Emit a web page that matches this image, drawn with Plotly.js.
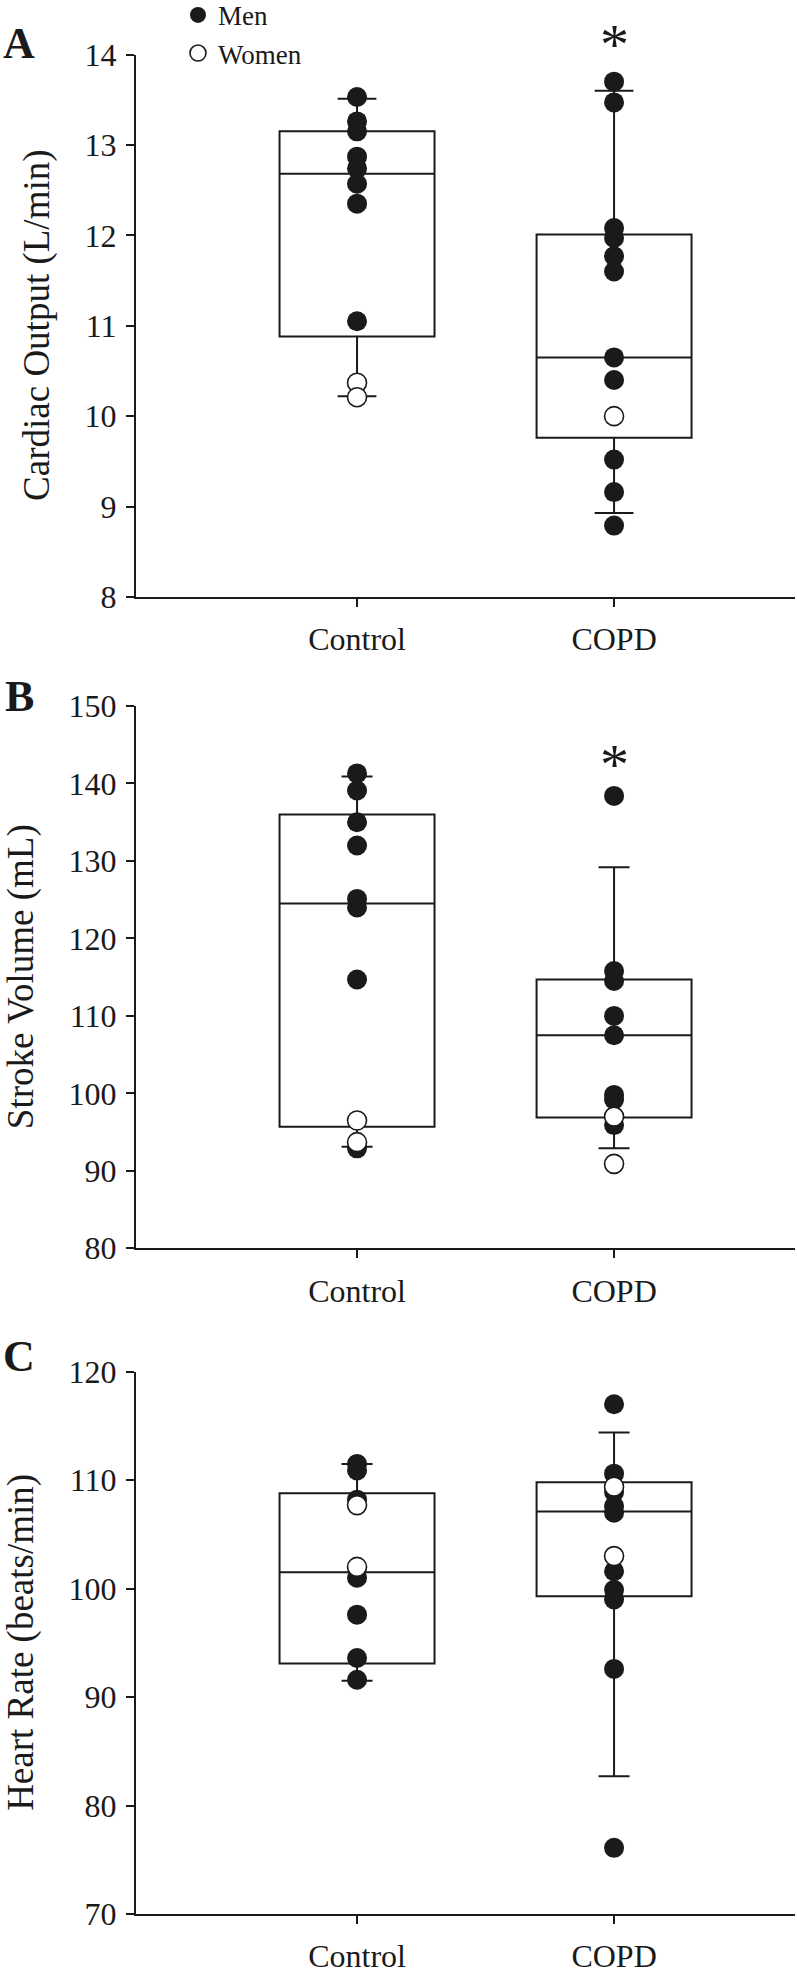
<!DOCTYPE html>
<html>
<head>
<meta charset="utf-8">
<script src="https://cdn.plot.ly/plotly-3.0.1.min.js"></script>
<style>
  html, body { margin: 0; padding: 0; background: #fff; }
  #chart { width: 797px; height: 1977px; }
</style>
</head>
<body>
<div id="chart"></div>
<script>
// ---- Data ----
var categories = ['Control', 'COPD'];

// Panel A: Cardiac Output (L/min)
var coQ1 = [10.88, 9.76];
var coMedian = [12.68, 10.65];
var coQ3 = [13.15, 12.01];
var coLower = [10.22, 8.93];
var coUpper = [13.51, 13.60];
var coControlMen = [13.53, 13.26, 13.15, 12.87, 12.74, 12.57, 12.35, 11.05];
var coControlWomen = [10.37, 10.21];
var coCopdMen = [13.70, 13.47, 12.08, 11.97, 11.77, 11.60, 10.65, 10.40, 9.52, 9.16, 8.79];
var coCopdWomen = [10.00];

// Panel B: Stroke Volume (mL)
var svQ1 = [95.7, 96.9];
var svMedian = [124.5, 107.5];
var svQ3 = [136.0, 114.7];
var svLower = [93.1, 92.9];
var svUpper = [140.9, 129.2];
var svControlMen = [141.3, 139.1, 135.0, 132.0, 125.1, 124.0, 114.7, 92.9];
var svControlWomen = [96.5, 93.7];
var svCopdMen = [138.4, 115.8, 114.5, 110.0, 107.5, 99.8, 99.2, 95.9];
var svCopdWomen = [97.0, 90.9];

// Panel C: Heart Rate (beats/min)
var hrQ1 = [93.1, 99.3];
var hrMedian = [101.5, 107.1];
var hrQ3 = [108.8, 109.8];
var hrLower = [91.5, 82.7];
var hrUpper = [111.5, 114.4];
var hrControlMen = [111.5, 110.9, 108.2, 101.0, 97.6, 93.6, 91.6];
var hrControlWomen = [107.7, 102.0];
var hrCopdMen = [117.0, 110.6, 108.9, 107.6, 107.0, 101.6, 99.9, 99.0, 92.6, 76.1];
var hrCopdWomen = [109.4, 103.0];

// axis ranges
var rangeA = [8, 14];
var rangeB = [80, 150];
var rangeC = [70, 120];

// significance markers (y positions in data units)
var asteriskA = 14.2;
var asteriskB = 143.45;

var panelTitles = ['Cardiac Output (L/min)', 'Stroke Volume (mL)', 'Heart Rate (beats/min)'];
var panelLetters = ['A', 'B', 'C'];
var legendNames = ['Men', 'Women'];

// ---- Build ----
var FONT = 'Liberation Serif, Times New Roman, serif';
var INK = '#1a1a1a';

var domA = [0.69803, 0.97243];
var domB = [0.36859, 0.64289];
var domC = [0.03187, 0.30617];

function xs(arr, cat) { return arr.map(function () { return cat; }); }

function panel(idx, q1, med, q3, lo, hi, cMen, cWomen, pMen, pWomen, wWidth) {
  var ax = idx === 0 ? '' : String(idx + 1);
  var xa = 'x' + ax, ya = 'y' + ax;
  return [
    {
      type: 'box', x: categories, q1: q1, median: med, q3: q3,
      lowerfence: lo, upperfence: hi, boxpoints: false,
      width: 0.603, whiskerwidth: wWidth,
      line: { color: INK, width: 2 }, fillcolor: 'rgba(255,255,255,0)',
      xaxis: xa, yaxis: ya, showlegend: false, hoverinfo: 'skip'
    },
    {
      type: 'scatter', mode: 'markers', name: legendNames[0],
      x: xs(cMen, categories[0]).concat(xs(pMen, categories[1])),
      y: cMen.concat(pMen),
      marker: { color: INK, size: 20, line: { width: 0 } },
      xaxis: xa, yaxis: ya, showlegend: idx === 0, legendgroup: 'men'
    },
    {
      type: 'scatter', mode: 'markers', name: legendNames[1],
      x: xs(cWomen, categories[0]).concat(xs(pWomen, categories[1])),
      y: cWomen.concat(pWomen),
      marker: { color: '#ffffff', size: 19, line: { color: INK, width: 1.6 } },
      xaxis: xa, yaxis: ya, showlegend: idx === 0, legendgroup: 'women'
    }
  ];
}

var data = []
  .concat(panel(0, coQ1, coMedian, coQ3, coLower, coUpper, coControlMen, coControlWomen, coCopdMen, coCopdWomen, 0.25))
  .concat(panel(1, svQ1, svMedian, svQ3, svLower, svUpper, svControlMen, svControlWomen, svCopdMen, svCopdWomen, 0.2))
  .concat(panel(2, hrQ1, hrMedian, hrQ3, hrLower, hrUpper, hrControlMen, hrControlWomen, hrCopdMen, hrCopdWomen, 0.2));

function xaxis(anchor) {
  return {
    anchor: anchor, domain: [0, 1], type: 'category',
    categoryorder: 'array', categoryarray: categories,
    range: [-0.86, 1.704], showline: true, linecolor: INK, linewidth: 2,
    ticks: 'outside', ticklen: 8, tickwidth: 2, tickcolor: INK,
    showgrid: false, zeroline: false, fixedrange: true,
    ticklabelstandoff: 5,
    tickfont: { family: FONT, size: 32, color: INK }
  };
}
function yaxis(anchor, domain, range, dtick) {
  return {
    anchor: anchor, domain: domain, range: range, dtick: dtick, tick0: range[0],
    showline: true, linecolor: INK, linewidth: 2,
    ticks: 'outside', ticklen: 8, tickwidth: 2, tickcolor: INK,
    showgrid: false, zeroline: false, fixedrange: true,
    ticklabelstandoff: 3,
    tickfont: { family: FONT, size: 32, color: INK }
  };
}

function yTitle(text, xPaper, dom) {
  return {
    xref: 'paper', yref: 'paper', x: xPaper, y: (dom[0] + dom[1]) / 2,
    text: text, textangle: -90, showarrow: false, xanchor: 'center', yanchor: 'middle',
    font: { family: FONT, size: 37, color: INK }
  };
}
function letter(text, yPaper) {
  return {
    xref: 'paper', yref: 'paper', x: -0.1775, y: yPaper, text: '<b>' + text + '</b>',
    showarrow: false, xanchor: 'center', yanchor: 'middle',
    font: { family: FONT, size: 44, color: INK }
  };
}
function star(xa, ya, value, range) {
  return {
    xref: xa, yref: ya + ' domain', x: categories[1],
    y: (value - range[0]) / (range[1] - range[0]),
    text: '*', showarrow: false, yanchor: 'middle', yshift: -8,
    font: { family: FONT, size: 58, color: INK }
  };
}

var layout = {
  width: 797, height: 1977,
  margin: { l: 136, r: 2, t: 0, b: 0, autoexpand: false },
  paper_bgcolor: '#ffffff', plot_bgcolor: '#ffffff',
  font: { family: FONT, color: INK },
  showlegend: true,
  legend: {
    x: 0.0637, y: 1.0046, xanchor: 'left', yanchor: 'top',
    bgcolor: 'rgba(0,0,0,0)', borderwidth: 0,
    font: { family: FONT, size: 27, color: INK },
    tracegroupgap: 0
  },
  xaxis: xaxis('y'),
  yaxis: yaxis('x', domA, rangeA, 1),
  xaxis2: xaxis('y2'),
  yaxis2: yaxis('x2', domB, rangeB, 10),
  xaxis3: xaxis('y3'),
  yaxis3: yaxis('x3', domC, rangeC, 10),
  annotations: [
    star('x', 'y', asteriskA, rangeA),
    star('x2', 'y2', asteriskB, rangeB),
    yTitle(panelTitles[0], -0.1500, domA),
    yTitle(panelTitles[1], -0.1745, domB),
    yTitle(panelTitles[2], -0.1745, domC),
    letter(panelLetters[0], 0.9780),
    letter(panelLetters[1], 0.6475),
    letter(panelLetters[2], 0.3140)
  ]
};

Plotly.newPlot('chart', data, layout, { staticPlot: true, displayModeBar: false });
</script>
</body>
</html>
